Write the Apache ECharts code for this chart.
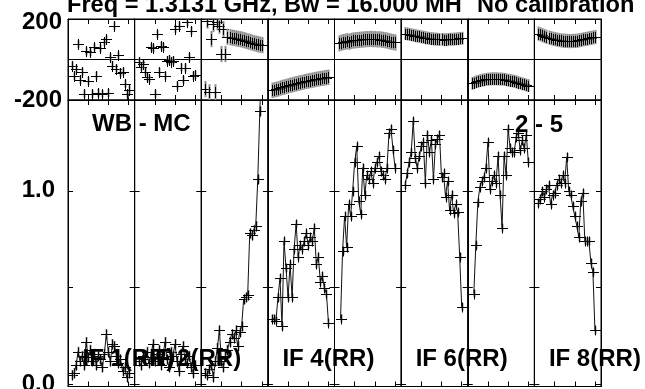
<!DOCTYPE html>
<html>
<head>
<meta charset="utf-8">
<script src="https://cdn.jsdelivr.net/npm/echarts@6/dist/echarts.min.js"></script>
<style>html,body{margin:0;padding:0;background:#fff;}#c{width:645px;height:389px;}</style>
</head>
<body>
<div id="c"></div>
<script>
// ---------------- data ----------------
const channels = [2,3,4,5,6,7,8,9,10,11,12,13,14,15,16,17,18,19,20,21,22,23,24,25,26,27,28,29,30];

const ampIF1 = [0.05,0.06,0.10,0.17,0.12,0.15,0.10,0.22,0.14,0.18,0.12,0.16,0.10,0.15,0.13,0.09,0.16,0.26,0.17,0.12,0.21,0.20,0.15,0.11,0.13,0.07,0.09,0.04,0.06];
const ampIF2 = [0.12,0.10,0.15,0.13,0.17,0.11,0.14,0.21,0.12,0.16,0.18,0.10,0.14,0.22,0.13,0.09,0.17,0.15,0.21,0.12,0.07,0.16,0.20,0.13,0.11,0.15,0.09,0.06,0.10];
const ampIF3 = [0.06,0.05,0.08,0.10,0.04,0.12,0.19,0.28,0.12,0.09,0.15,0.18,0.22,0.26,0.24,0.28,0.20,0.27,0.30,0.44,0.45,0.46,0.78,0.77,0.80,0.82,1.06,1.41,1.70];
const ampIF4 = [0.34,0.34,0.33,0.45,0.55,0.30,0.74,0.60,0.45,0.62,0.45,0.70,0.83,0.66,0.72,0.70,0.74,0.78,0.72,0.76,0.74,0.81,0.62,0.66,0.53,0.56,0.50,0.47,0.32];
const ampIF5 = [null,0.34,0.69,0.87,0.71,0.93,0.87,1.00,1.15,1.23,0.95,0.88,1.12,0.98,1.08,1.06,1.10,1.04,1.12,1.15,1.18,1.10,1.08,1.06,1.12,1.30,1.32,1.21,1.12];
const ampIF6 = [1.03,1.09,1.15,1.20,1.36,1.17,1.12,1.18,1.23,1.25,1.04,1.29,1.20,1.26,1.06,1.24,1.27,1.29,1.07,1.09,0.97,1.05,0.90,0.98,0.885,0.93,0.89,0.66,0.40];
const ampIF7 = [null,0.47,0.72,0.94,1.02,1.05,1.07,1.12,1.25,1.01,1.05,1.08,1.04,1.18,0.98,0.81,1.18,1.08,1.32,1.22,1.20,1.20,1.28,1.30,1.21,1.26,1.22,1.29,1.15];
const ampIF8 = [0.935,0.96,1.00,0.97,1.01,1.03,0.93,0.98,0.99,1.03,1.06,1.04,1.08,1.04,1.175,1.00,0.98,0.92,0.87,0.82,0.76,0.95,0.99,0.74,0.74,0.74,0.63,0.58,0.28];

const phsIF1 = [-30,-80,-45,75,-100,-60,-170,40,-105,35,-170,60,-80,-165,55,-170,85,100,-165,10,-30,167,-45,20,-65,-60,-120,-170,-150];
const phsIF2 = [-10,-35,-22,-60,-88,-95,60,55,-170,126,-60,68,62,-80,-6,0,-10,-5,151,-129,167,-40,-100,-40,184,11,142,-80,-75];
const phsIF3 = [-146,192,-162,101,175,-162,184,167,27,150,27,112,110,108,106,104,102,100,98,95,92,89,86,83,80,78,75,73,71];
const phsIF4 = [-152,-150,-147,-145,-141,-138,-136,-133,-130,-127,-125,-122,-120,-117,-115,-113,-110,-108,-106,-104,-102,-100,-98,-96,-94,-93,-91,-89,-88];
const phsIF5 = [80,83,86,88,90,88,92,94,95,96,97,98,99,100,101,101,102,100,101,99,100,98,97,95,93,90,88,86,84];
const phsIF6 = [128,126,124,122,120,118,116,114,112,110,108,106,104,103,102,101,100,99,99,98,98,99,100,100,101,102,103,104,105];
const phsIF7 = [-118,-114,-110,-107,-104,-102,-100,-98,-97,-96,-95,-95,-95,-96,-96,-97,-98,-100,-102,-104,-106,-108,-111,-114,-117,-120,-123,-126,-129];
const phsIF8 = [128,124,120,116,112,108,105,102,100,98,96,94,93,92,92,91,91,92,92,93,95,97,99,101,103,105,107,109,111];

const phaseErr = [20, 20, 40, 38, 40, 32, 32, 35];
const ampErr = [0.025, 0.025, 0.025, 0.02, 0.02, 0.02, 0.02, 0.02];

const ifLabels = ['IF 1(RR)', 'IF 2(RR)', null, 'IF 4(RR)', null, 'IF 6(RR)', null, 'IF 8(RR)'];
const titleText = 'Freq = 1.3131 GHz, Bw = 16.000 MH';
const calibText = 'No calibration';
const baselineLeft = 'WB - MC';
const baselineRight = '2 - 5';

const phaseTickLabels = [-200, 200];
const ampTickValues = [0, 0.5, 1.0];
const ampTickLabels = [0, 1.0];

// ---------------- layout ----------------
const amps = [ampIF1, ampIF2, ampIF3, ampIF4, ampIF5, ampIF6, ampIF7, ampIF8];
const phss = [phsIF1, phsIF2, phsIF3, phsIF4, phsIF5, phsIF6, phsIF7, phsIF8];
const L = 68, R = 601, PT = 19, PM = 100, AB = 386.5;
const W = (R - L) / 8;
const AMIN = -0.01, AMAX = 1.469;
const FONT = "'Liberation Sans', Arial, Helvetica, sans-serif";

const grids = [], xAxis = [], yAxis = [], series = [], graphic = [];

function makeCross(hw, hh, ymin, ymax) {
  return function (params, api) {
    const x = api.value(0), y = api.value(1), e = api.value(2);
    if (y > ymax || y < ymin) return null;
    const p = api.coord([x, y]);
    const t = api.coord([x, Math.min(y + e, ymax)]);
    const b = api.coord([x, Math.max(y - e, ymin)]);
    const cx = Math.round(p[0]) + 0.5, cy = Math.round(p[1]) + 0.5;
    return {
      type: 'group',
      children: [
        { type: 'line', shape: { x1: cx, y1: t[1], x2: cx, y2: b[1] }, style: { stroke: '#8c8c8c', lineWidth: 2 } },
        { type: 'line', shape: { x1: cx - hw, y1: cy, x2: cx + hw, y2: cy }, style: { stroke: '#000', lineWidth: 1 } },
        { type: 'line', shape: { x1: cx, y1: cy - hh, x2: cx, y2: cy + hh }, style: { stroke: '#000', lineWidth: 1 } }
      ]
    };
  };
}

function addXAxes(g) {
  ['bottom', 'top'].forEach(pos => {
    xAxis.push({
      type: 'value', gridIndex: g, position: pos, min: 0, max: 33, interval: 10,
      axisLine: { show: true, onZero: false, lineStyle: { color: '#000', width: 1 } },
      axisTick: { show: true, inside: true, length: 5, lineStyle: { color: '#000', width: 1 } },
      axisLabel: { show: false }, splitLine: { show: false }
    });
  });
}

function makeGrid(left, top, height) {
  return { left: left, top: top, width: W, height: height, show: true, borderColor: '#000', borderWidth: 1,
           containLabel: false, outerBoundsMode: 'none' };
}

for (let i = 0; i < 8; i++) {
  const left = L + i * W;
  // phase grid
  const gp = grids.length;
  grids.push(makeGrid(left, PT, PM - PT));
  addXAxes(gp);
  yAxis.push({
    type: 'value', gridIndex: gp, position: 'left', min: -200, max: 200, interval: 200,
    axisLine: { show: true, onZero: false, lineStyle: { color: '#000' } },
    axisTick: { show: false },
    splitLine: { show: true, lineStyle: { color: '#000', width: 1 } },
    axisLabel: {
      show: i === 0, margin: 6, color: '#000', fontSize: 24, fontWeight: 'bold', fontFamily: FONT,
      customValues: phaseTickLabels,
      formatter: v => (v === 200 ? '{d|200}' : String(v)),
      rich: { d: { padding: [7, 0, 0, 0], fontSize: 24, fontWeight: 'bold', fontFamily: FONT, color: '#000' } }
    }
  });
  yAxis.push({
    type: 'value', gridIndex: gp, position: 'right', min: -200, max: 200, interval: 200,
    axisLine: { show: true, onZero: false, lineStyle: { color: '#000' } },
    axisTick: { show: false }, axisLabel: { show: false }, splitLine: { show: false }
  });
  series.push({
    type: 'custom', xAxisIndex: 2 * gp, yAxisIndex: 2 * gp, clip: true, silent: true,
    renderItem: makeCross(5.5, 5.5, -200, 200),
    data: channels.map((c, k) => [c, phss[i][k], phaseErr[i]]).filter(d => d[1] !== null)
  });

  // amplitude grid
  const ga = grids.length;
  grids.push(makeGrid(left, PM, AB - PM));
  addXAxes(ga);
  ['left', 'right'].forEach(pos => {
    yAxis.push({
      type: 'value', gridIndex: ga, position: pos, min: AMIN, max: AMAX,
      axisLine: { show: true, onZero: false, lineStyle: { color: '#000' } },
      axisTick: { show: true, inside: true, length: 5, customValues: ampTickValues, lineStyle: { color: '#000' } },
      splitLine: { show: false },
      axisLabel: {
        show: i === 0 && pos === 'left', margin: 13, color: '#000', fontSize: 24, fontWeight: 'bold', fontFamily: FONT,
        customValues: ampTickLabels, formatter: v => v.toFixed(1)
      }
    });
  });
  const pts = channels.map((c, k) => [c, amps[i][k], ampErr[i]]).filter(d => d[1] !== null);
  series.push({
    type: 'line', xAxisIndex: 2 * ga, yAxisIndex: 2 * ga, clip: true, silent: true,
    symbol: 'none', lineStyle: { color: '#111', width: 1 },
    data: pts.map(d => [d[0], d[1]])
  });
  series.push({
    type: 'custom', xAxisIndex: 2 * ga, yAxisIndex: 2 * ga, clip: true, silent: true,
    renderItem: makeCross(5.5, 5, AMIN, AMAX),
    data: pts
  });

  if (ifLabels[i]) {
    graphic.push({
      type: 'text', z: 100, x: left + 14.5, y: 359,
      style: { text: ifLabels[i], font: 'bold 24px ' + FONT, fill: '#000', verticalAlign: 'middle', align: 'left' }
    });
  }
}

graphic.push({ type: 'text', z: 100, x: 67, y: 5, style: { text: titleText, font: 'bold 23.6px ' + FONT, fill: '#000', verticalAlign: 'middle', align: 'left' } });
graphic.push({ type: 'text', z: 100, x: 477, y: 5, style: { text: calibText, font: 'bold 23.6px ' + FONT, fill: '#000', verticalAlign: 'middle', align: 'left' } });
graphic.push({ type: 'text', z: 100, x: 92, y: 124, style: { text: baselineLeft, font: 'bold 24px ' + FONT, fill: '#000', verticalAlign: 'middle', align: 'left' } });
graphic.push({ type: 'text', z: 100, x: 515, y: 125, style: { text: baselineRight, font: 'bold 24px ' + FONT, fill: '#000', verticalAlign: 'middle', align: 'left' } });

const chart = echarts.init(document.getElementById('c'), null, { renderer: 'canvas' });
chart.setOption({
  animation: false,
  backgroundColor: '#fff',
  grid: grids, xAxis: xAxis, yAxis: yAxis, series: series, graphic: graphic
});
</script>
</body>
</html>
